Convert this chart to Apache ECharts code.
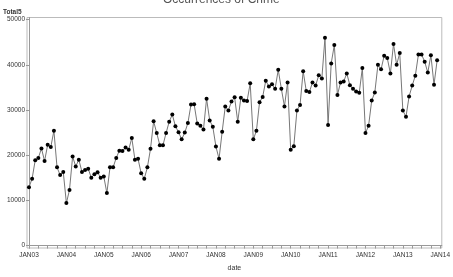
<!DOCTYPE html>
<html>
<head>
<meta charset="utf-8">
<script src="https://cdn.jsdelivr.net/npm/echarts@6/dist/echarts.min.js"></script>
<style>
  html, body { margin: 0; padding: 0; background: #fff; }
  #chart { width: 453px; height: 277px; }
</style>
</head>
<body>
<div id="chart"></div>
<script>
// monthly totals, Jan 2003 .. Dec 2013
const totals = [
    12900, 14800, 18900, 19400, 21500, 18700, 22300, 21800, 25400, 17300, 15600, 16300,
    9400, 12300, 19700, 17500, 19000, 16300, 16700, 17000, 15000, 15800, 16200, 15000,
    15300, 11600, 17300, 17300, 19400, 21000, 20900, 21700, 21200, 23800, 19000, 19200,
    16000, 14800, 17300, 21400, 27500, 24900, 22200, 22200, 24900, 27400, 29000, 26400,
    25100, 23500, 25000, 27100, 31200, 31300, 27000, 26500, 25700, 32500, 27700, 26300,
    21900, 19200, 25200, 30800, 29900, 31900, 32800, 27400, 32700, 32100, 32000, 35900,
    23500, 25400, 31700, 32900, 36500, 35200, 35700, 34700, 38900, 34700, 30800, 36100,
    21200, 22000, 29900, 31100, 38600, 34200, 34000, 36100, 35400, 37700, 37000, 46000,
    26700, 40300, 44400, 33300, 36100, 36300, 38100, 35500, 34700, 34100, 33800, 39300,
    24900, 26500, 32100, 33900, 40000, 39000, 42000, 41500, 38100, 44600, 40000, 42600,
    29900, 28500, 33000, 35400, 37600, 42300, 42300, 40700, 38300, 42100, 35600, 41000
];
const yearLabels = ['JAN03', 'JAN04', 'JAN05', 'JAN06', 'JAN07', 'JAN08',
                    'JAN09', 'JAN10', 'JAN11', 'JAN12', 'JAN13', 'JAN14'];
const yTicks = [0, 10000, 20000, 30000, 40000, 50000];

const myChart = echarts.init(document.getElementById('chart'));

const xLabelPos = yearLabels.map((s, i) => i * 12);
const xTickPos = [];
for (let m = 0; m <= 132; m += 3) xTickPos.push(m);

const font = 'Liberation Sans, Arial, sans-serif';

myChart.setOption({
    animation: false,
    title: [
        {
            text: 'Occurrences of Crime',
            left: 163,
            top: -6,
            padding: 0,
            textStyle: { fontSize: 12, fontWeight: 'normal', color: '#555', fontFamily: font }
        },
        {
            text: 'Total5',
            left: 3,
            top: 9,
            padding: 0,
            textStyle: { fontSize: 6.5, fontWeight: 'bold', color: '#333', fontFamily: font }
        }
    ],
    grid: {
        left: 27,
        right: 8,
        top: 17.5,
        bottom: 28,
        show: true,
        borderColor: '#bbb',
        borderWidth: 1,
        backgroundColor: '#fff'
    },
    xAxis: {
        type: 'value',
        min: -0.64,
        max: 132.5,
        name: 'date',
        nameLocation: 'middle',
        nameGap: 17,
        nameTextStyle: { fontSize: 7, color: '#333', fontFamily: font },
        axisLine: { show: true, lineStyle: { color: '#999' } },
        axisTick: { show: true, length: 3, customValues: xTickPos, lineStyle: { color: '#999' } },
        axisLabel: {
            customValues: xLabelPos,
            formatter: v => yearLabels[Math.round(v / 12)],
            fontSize: 6.5,
            color: '#333',
            margin: 4,
            fontFamily: font
        },
        splitLine: { show: false }
    },
    yAxis: {
        type: 'value',
        min: -550,
        max: 50480,
        axisLine: { show: true, lineStyle: { color: '#999' } },
        axisTick: { show: true, length: 3, customValues: yTicks, lineStyle: { color: '#999' } },
        axisLabel: {
            customValues: yTicks,
            formatter: v => String(Math.round(v)),
            fontSize: 6.5,
            color: '#333',
            margin: 2,
            fontFamily: font
        },
        splitLine: { show: false }
    },
    series: [{
        type: 'line',
        data: totals.map((v, i) => [i, v]),
        symbol: 'circle',
        symbolSize: 4,
        showSymbol: true,
        itemStyle: { color: '#000' },
        lineStyle: { color: '#777', width: 1 }
    }]
});
</script>
</body>
</html>
